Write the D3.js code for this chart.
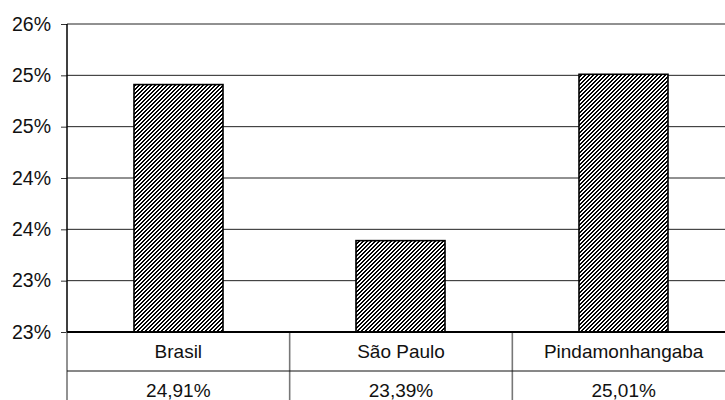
<!DOCTYPE html>
<html>
<head>
<meta charset="utf-8">
<script src="https://cdn.jsdelivr.net/npm/d3@7/dist/d3.min.js"></script>
<style>
  html, body { margin: 0; padding: 0; background: #fff; }
  svg { display: block; font-family: "Liberation Sans", Arial, Helvetica, sans-serif; }
</style>
</head>
<body>
<svg id="chart" width="725" height="400"></svg>
<script>
// Share of population by locality
const categories = ["Brasil", "São Paulo", "Pindamonhangaba"];
const values = [24.91, 23.39, 25.01];
const yTicks = [22.5, 23, 23.5, 24, 24.5, 25, 25.5];

const W = 725, H = 400;
const plotLeft = 67, plotRight = 735, plotTop = 24, plotBottom = 332;
const rowLine = 371;

const svg = d3.select("#chart");

const y = d3.scaleLinear().domain([22.5, 25.5]).range([plotBottom, plotTop]);
const x = d3.scaleBand().domain(categories).range([plotLeft, plotRight]).padding(0);

const tickLabel = v => Math.round(v) + "%";
const valueLabel = v => v.toFixed(2).replace(".", ",") + "%";

// pixel-aligned "/" hatch fill for the bars (4x4 tile, half black)
const defs = svg.append("defs");
const pat = defs.append("pattern")
  .attr("id", "hatch")
  .attr("patternUnits", "userSpaceOnUse")
  .attr("width", 4).attr("height", 4);
pat.append("rect").attr("width", 4).attr("height", 4).attr("fill", "#fff");
const hatchPixels = [[3,0],[0,0],[2,1],[3,1],[1,2],[2,2],[0,3],[1,3]];
pat.selectAll("rect.px")
  .data(hatchPixels)
  .join("rect")
  .attr("class", "px")
  .attr("x", d => d[0]).attr("y", d => d[1])
  .attr("width", 1).attr("height", 1)
  .attr("fill", "#000")
  .attr("shape-rendering", "crispEdges");

// horizontal gridlines
svg.append("g").selectAll("line")
  .data(yTicks)
  .join("line")
  .attr("x1", plotLeft).attr("x2", plotRight)
  .attr("y1", d => y(d)).attr("y2", d => y(d))
  .attr("stroke", "#222").attr("stroke-width", 1);

// y axis
const yAxis = d3.axisLeft(y)
  .tickValues(yTicks)
  .tickFormat(tickLabel)
  .tickSize(6)
  .tickPadding(10);
const ga = svg.append("g").attr("transform", `translate(${plotLeft},0)`).call(yAxis);
ga.select(".domain").remove();
ga.selectAll(".tick line").attr("stroke", "#333");
ga.selectAll(".tick text")
  .attr("font-size", 19.5)
  .attr("fill", "#111")
  .attr("font-family", "'Liberation Sans', Arial, sans-serif");
svg.append("line")
  .attr("x1", plotLeft).attr("x2", plotLeft)
  .attr("y1", plotTop).attr("y2", plotBottom)
  .attr("stroke", "#000").attr("stroke-width", 1.5);

// bars
const barW = x.bandwidth() * 0.4;
svg.append("g").selectAll("rect")
  .data(values)
  .join("rect")
  .attr("x", (d, i) => Math.round(x(categories[i]) + (x.bandwidth() - barW) / 2))
  .attr("width", Math.round(barW))
  .attr("y", d => y(d))
  .attr("height", d => plotBottom - y(d))
  .attr("fill", "url(#hatch)")
  .attr("stroke", "#000")
  .attr("stroke-width", 1.6);

// data table below the axis
const table = svg.append("g");
table.selectAll("line.v")
  .data(categories.map(c => x(c)).concat([plotRight]))
  .join("line")
  .attr("class", "v")
  .attr("x1", d => d).attr("x2", d => d)
  .attr("y1", plotBottom).attr("y2", H + 5)
  .attr("stroke", "#777").attr("stroke-width", 1.6);
table.append("line")
  .attr("x1", plotLeft).attr("x2", plotRight)
  .attr("y1", rowLine).attr("y2", rowLine)
  .attr("stroke", "#111").attr("stroke-width", 1);

table.selectAll("text.cat")
  .data(categories)
  .join("text")
  .attr("class", "cat")
  .attr("x", d => x(d) + x.bandwidth() / 2)
  .attr("y", 357.5)
  .attr("text-anchor", "middle")
  .attr("font-size", 19)
  .attr("fill", "#111")
  .text(d => d);

table.selectAll("text.val")
  .data(values)
  .join("text")
  .attr("class", "val")
  .attr("x", (d, i) => x(categories[i]) + x.bandwidth() / 2)
  .attr("y", 397)
  .attr("text-anchor", "middle")
  .attr("font-size", 19)
  .attr("fill", "#111")
  .text(valueLabel);

// x axis line
svg.append("line")
  .attr("x1", plotLeft).attr("x2", plotRight)
  .attr("y1", plotBottom).attr("y2", plotBottom)
  .attr("stroke", "#000").attr("stroke-width", 2.2);
</script>
</body>
</html>
